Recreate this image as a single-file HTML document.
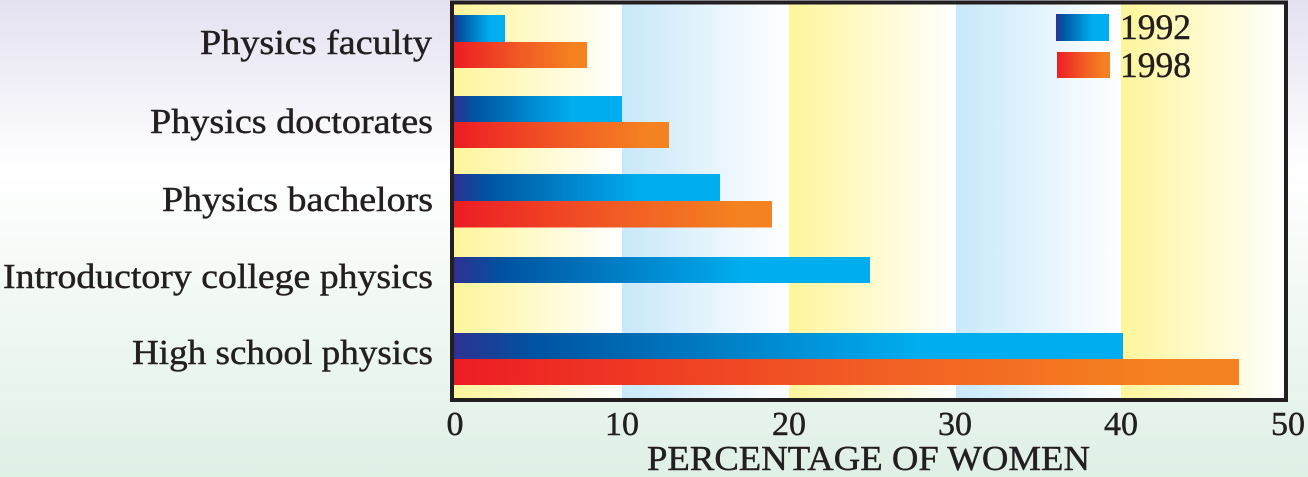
<!DOCTYPE html>
<html><head><meta charset="utf-8"><style>
html,body{margin:0;padding:0;width:1308px;height:477px;overflow:hidden}
svg{display:block}
text{font-family:"Liberation Serif",serif;fill:#231f20;stroke:#231f20;stroke-width:0.45}
</style></head><body>
<svg width="1308" height="477" viewBox="0 0 1308 477" xmlns="http://www.w3.org/2000/svg">
<defs>
<linearGradient id="pg" x1="0" y1="0" x2="0" y2="1">
<stop offset="0" stop-color="#e3e1f0"/>
<stop offset="0.36" stop-color="#ffffff"/>
<stop offset="1" stop-color="#dff0e5"/>
</linearGradient>
<linearGradient id="yb" x1="0" y1="0" x2="1" y2="0">
<stop offset="0" stop-color="#fff59b"/>
<stop offset="1" stop-color="#ffffff"/>
</linearGradient>
<linearGradient id="bb" x1="0" y1="0" x2="1" y2="0">
<stop offset="0" stop-color="#c8e8f9"/>
<stop offset="1" stop-color="#ffffff"/>
</linearGradient>
<linearGradient id="bl" x1="0" y1="0" x2="1" y2="0">
<stop offset="0" stop-color="#2e3192"/>
<stop offset="0.12" stop-color="#0053a0"/>
<stop offset="0.7" stop-color="#00aeef"/>
<stop offset="1" stop-color="#00aeef"/>
</linearGradient>
<linearGradient id="rd" x1="0" y1="0" x2="1" y2="0">
<stop offset="0" stop-color="#ed1c24"/>
<stop offset="0.5" stop-color="#f15a24"/>
<stop offset="0.9" stop-color="#f58220"/>
<stop offset="1" stop-color="#f58220"/>
</linearGradient>
</defs>
<rect x="0" y="0" width="1308" height="477" fill="url(#pg)"/>
<!-- bands -->
<rect x="454" y="4" width="168" height="395" fill="url(#yb)"/>
<rect x="622" y="4" width="167" height="395" fill="url(#bb)"/>
<rect x="789" y="4" width="167" height="395" fill="url(#yb)"/>
<rect x="956" y="4" width="165" height="395" fill="url(#bb)"/>
<rect x="1121" y="4" width="165" height="395" fill="url(#yb)"/>
<!-- bars -->
<rect x="454" y="15" width="51" height="27" fill="url(#bl)"/>
<rect x="454" y="42" width="133" height="26" fill="url(#rd)"/>
<rect x="454" y="96" width="168" height="26" fill="url(#bl)"/>
<rect x="454" y="122" width="215" height="26" fill="url(#rd)"/>
<rect x="454" y="174" width="266" height="27" fill="url(#bl)"/>
<rect x="454" y="201" width="318" height="26.5" fill="url(#rd)"/>
<rect x="454" y="257" width="416" height="26" fill="url(#bl)"/>
<rect x="454" y="333" width="669" height="26" fill="url(#bl)"/>
<rect x="454" y="359" width="785" height="26" fill="url(#rd)"/>
<!-- frame -->
<rect x="452" y="2.5" width="834" height="397.5" fill="none" stroke="#231f20" stroke-width="4"/>
<!-- legend -->
<rect x="1056" y="14" width="53" height="27" fill="url(#bl)"/>
<rect x="1057" y="52" width="53" height="26" fill="url(#rd)"/>
<text x="1120" y="39" font-size="36" textLength="71" lengthAdjust="spacingAndGlyphs">1992</text>
<text x="1120" y="77" font-size="36" textLength="71" lengthAdjust="spacingAndGlyphs">1998</text>
<!-- category labels -->
<g font-size="35" text-anchor="end">
<text x="432" y="54" textLength="232" lengthAdjust="spacingAndGlyphs">Physics faculty</text>
<text x="433" y="133" textLength="283" lengthAdjust="spacingAndGlyphs">Physics doctorates</text>
<text x="433" y="211" textLength="271" lengthAdjust="spacingAndGlyphs">Physics bachelors</text>
<text x="433" y="288" textLength="430" lengthAdjust="spacingAndGlyphs">Introductory college physics</text>
<text x="433" y="364" textLength="301" lengthAdjust="spacingAndGlyphs">High school physics</text>
</g>
<!-- ticks -->
<g font-size="34" text-anchor="middle">
<text x="455" y="435">0</text>
<text x="622" y="435">10</text>
<text x="789" y="435">20</text>
<text x="955" y="435">30</text>
<text x="1121" y="435">40</text>
<text x="1288" y="435">50</text>
</g>
<text x="647" y="470" font-size="35" textLength="443" lengthAdjust="spacingAndGlyphs">PERCENTAGE OF WOMEN</text>
</svg>
</body></html>
